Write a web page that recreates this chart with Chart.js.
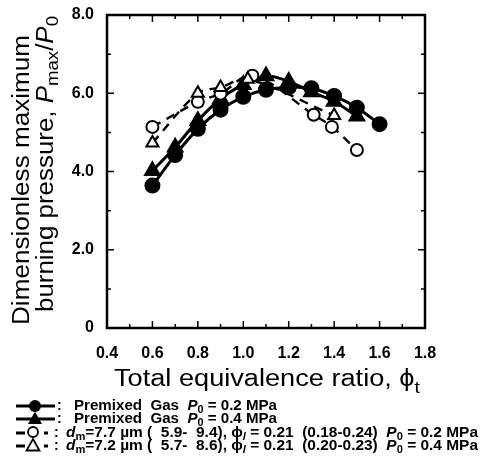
<!DOCTYPE html>
<html>
<head>
<meta charset="utf-8">
<script src="https://cdn.jsdelivr.net/npm/chart.js@4.4.1/dist/chart.umd.min.js"></script>
<style>
  html, body { margin: 0; padding: 0; background: #fff; }
  #wrap { width: 480px; height: 465px; position: relative; }
</style>
</head>
<body>
<div id="wrap"><canvas id="chart" width="480" height="465"></canvas></div>
<script>
// dati
const gas02X = [0.6, 0.7, 0.8, 0.9, 1.0, 1.1, 1.2, 1.3, 1.4, 1.5, 1.6];
const gas02Y = [3.64, 4.42, 5.09, 5.58, 5.91, 6.09, 6.15, 6.13, 5.93, 5.63, 5.21];
const gas04X = [0.6, 0.7, 0.8, 0.9, 1.0, 1.1, 1.2, 1.3, 1.4, 1.5];
const gas04Y = [4.02, 4.62, 5.3, 5.86, 6.22, 6.44, 6.3, 6.03, 5.79, 5.41];
const spray02X = [0.6, 0.8, 0.9, 1.04, 1.31, 1.39, 1.5];
const spray02Y = [5.14, 5.78, 5.99, 6.45, 5.45, 5.14, 4.55];
const spray04X = [0.6, 0.8, 0.9, 1.02, 1.4];
const spray04Y = [4.73, 6.0, 6.15, 6.36, 5.43];
const xTicks = [0.4, 0.6, 0.8, 1.0, 1.2, 1.4, 1.6, 1.8];
const yTicks = [0, 2, 4, 6, 8];

const FONT = '"Liberation Sans", Arial, Helvetica, sans-serif';
const pts = (xs, ys) => xs.map((x, i) => ({ x, y: ys[i] }));

// testo con corsivo e pedici
const fontOf = (s, size) => `${s.it ? 'italic ' : ''}${s.b ? 'bold ' : ''}${s.sub ? size * 0.72 : size}px ${FONT}`;

const segW = (ctx, segs, size) => segs.reduce((w, s) => {
  ctx.font = fontOf(s, size);
  return w + ctx.measureText(s.t).width;
}, 0);

const drawRich = (ctx, segs, x, y, size, width, center) => {
  const w = segW(ctx, segs, size);
  const sx = width ? width / w : 1;
  ctx.save();
  ctx.translate(center ? x - (w * sx) / 2 : x, y);
  ctx.scale(sx, 1);
  let cx = 0;
  segs.forEach(s => {
    ctx.font = fontOf(s, size);
    ctx.fillText(s.t, cx, s.sub ? size * 0.3 : 0);
    cx += ctx.measureText(s.t).width;
  });
  ctx.restore();
};

const frame = {
  id: 'frame',
  afterDraw(chart) {
    const { ctx, chartArea: a, scales } = chart;
    ctx.save();
    ctx.strokeStyle = '#000';
    ctx.lineWidth = 2.5;
    ctx.strokeRect(a.left, a.top, a.right - a.left, a.bottom - a.top);
    ctx.lineWidth = 1.5;
    ctx.beginPath();
    scales.x.ticks.forEach(t => {
      const px = scales.x.getPixelForValue(t.value);
      const len = Math.round(t.value * 10) % 2 === 0 ? 7 : 4;
      ctx.moveTo(px, a.bottom); ctx.lineTo(px, a.bottom - len);
      ctx.moveTo(px, a.top); ctx.lineTo(px, a.top + len);
    });
    scales.y.ticks.forEach(t => {
      const py = scales.y.getPixelForValue(t.value);
      const len = Math.round(t.value) % 2 === 0 ? 7 : 4;
      ctx.moveTo(a.left, py); ctx.lineTo(a.left + len, py);
      ctx.moveTo(a.right, py); ctx.lineTo(a.right - len, py);
    });
    ctx.stroke();

    // titoli assi
    ctx.fillStyle = '#000';
    ctx.textBaseline = 'middle';
    ctx.save();
    ctx.translate(23, 180);
    ctx.rotate(-Math.PI / 2);
    drawRich(ctx, [{ t: 'Dimensionless maximum' }], 0, 0, 23, 290, true);
    ctx.restore();
    ctx.save();
    ctx.translate(49, 164);
    ctx.rotate(-Math.PI / 2);
    drawRich(ctx, [
      { t: 'burning pressure, ' }, { t: 'P', it: true }, { t: 'max', sub: true },
      { t: '/' }, { t: 'P', it: true }, { t: '0', sub: true }
    ], 0, -2, 23, 296, true);
    ctx.restore();
    ctx.textBaseline = 'alphabetic';
    drawRich(ctx, [{ t: 'Total equivalence ratio, ' }, { t: 'ϕ' }, { t: 't', sub: true }], 267, 386, 23, 306, true);

    // legenda
    ctx.textBaseline = 'middle';
    const rows = [406, 419, 433, 446];
    ctx.lineWidth = 2.8;
    ctx.setLineDash([]);
    [0, 1].forEach(i => {
      const y = rows[i];
      ctx.beginPath(); ctx.moveTo(16, y); ctx.lineTo(55, y); ctx.stroke();
      ctx.beginPath();
      if (i === 0) ctx.arc(35, y, 6, 0, Math.PI * 2);
      else { ctx.moveTo(35, y - 7.5); ctx.lineTo(42, y + 5); ctx.lineTo(28, y + 5); ctx.closePath(); }
      ctx.fill();
    });
    [2, 3].forEach(i => {
      const y = rows[i];
      ctx.beginPath(); ctx.moveTo(16, y); ctx.lineTo(25, y); ctx.moveTo(44, y); ctx.lineTo(48, y); ctx.stroke();
      ctx.lineWidth = 1.8;
      ctx.beginPath();
      if (i === 2) ctx.arc(33, y - 1, 5, 0, Math.PI * 2);
      else { ctx.moveTo(33, y - 7); ctx.lineTo(39.5, y + 4.5); ctx.lineTo(26.5, y + 4.5); ctx.closePath(); }
      ctx.fillStyle = '#fff'; ctx.fill(); ctx.stroke();
      ctx.fillStyle = '#000';
      ctx.lineWidth = 2.8;
    });
    ctx.font = `bold 14px ${FONT}`;
    rows.forEach((y, i) => ctx.fillText(':', i < 2 ? 57 : 54, y));
    const B = 14;
    drawRich(ctx, [{ t: 'Premixed  Gas  ', b: true }, { t: 'P', it: true, b: true }, { t: '0', sub: true, b: true }, { t: ' = 0.2 MPa', b: true }], 74, rows[0], B, 203);
    drawRich(ctx, [{ t: 'Premixed  Gas  ', b: true }, { t: 'P', it: true, b: true }, { t: '0', sub: true, b: true }, { t: ' = 0.4 MPa', b: true }], 74, rows[1], B, 203);
    drawRich(ctx, [{ t: 'd', it: true, b: true }, { t: 'm', sub: true, b: true }, { t: '=7.7 µm (  5.9-  9.4), ', b: true },
      { t: 'ϕ', b: true }, { t: 'l', it: true, sub: true, b: true }, { t: ' = 0.21  (0.18-0.24)  ', b: true },
      { t: 'P', it: true, b: true }, { t: '0', sub: true, b: true }, { t: ' = 0.2 MPa', b: true }], 66, rows[2], B, 412);
    drawRich(ctx, [{ t: 'd', it: true, b: true }, { t: 'm', sub: true, b: true }, { t: '=7.2 µm (  5.7-  8.6), ', b: true },
      { t: 'ϕ', b: true }, { t: 'l', it: true, sub: true, b: true }, { t: ' = 0.21  (0.20-0.23)  ', b: true },
      { t: 'P', it: true, b: true }, { t: '0', sub: true, b: true }, { t: ' = 0.4 MPa', b: true }], 66, rows[3], B, 412);
    ctx.restore();
  }
};

const solid = { borderColor: '#000', borderWidth: 3, showLine: true, tension: 0.35, pointBackgroundColor: '#000', pointBorderColor: '#000' };
const dashed = { borderColor: '#000', borderWidth: 2.4, borderDash: [9, 7], showLine: true, tension: 0.35, pointBackgroundColor: '#fff', pointBorderColor: '#000', pointBorderWidth: 2 };

new Chart(document.getElementById('chart'), {
  type: 'scatter',
  data: {
    datasets: [
      { ...dashed, label: 'spray 0.4', data: pts(spray04X, spray04Y), pointStyle: 'triangle', pointRadius: 7 },
      { ...dashed, label: 'spray 0.2', data: pts(spray02X, spray02Y), pointStyle: 'circle', pointRadius: 6 },
      { ...solid, label: 'gas 0.4', data: pts(gas04X, gas04Y), pointStyle: 'triangle', pointRadius: 7.5 },
      { ...solid, label: 'gas 0.2', data: pts(gas02X, gas02Y), pointStyle: 'circle', pointRadius: 6.5 },
    ],
  },
  options: {
    responsive: false,
    animation: false,
    layout: { padding: { left: 0, right: 55, top: 15, bottom: 0 } },
    plugins: { legend: { display: false }, tooltip: { enabled: false } },
    scales: {
      x: {
        type: 'linear', min: 0.4, max: 1.8,
        afterFit: s => { s.height = 137; },
        afterBuildTicks: s => { s.ticks = []; for (let i = 4; i <= 18; i++) s.ticks.push({ value: i / 10 }); },
        ticks: {
          padding: 8, color: '#000', font: { family: FONT, size: 16, weight: 'bold' },
          autoSkip: false, maxRotation: 0,
          callback: v => xTicks.some(t => Math.abs(t - v) < 1e-6) ? v.toFixed(1) : '',
        },
        grid: { display: false },
        border: { display: false },
      },
      y: {
        min: 0, max: 8,
        afterFit: s => { s.width = 107; },
        afterBuildTicks: s => { s.ticks = []; for (let i = 0; i <= 8; i++) s.ticks.push({ value: i }); },
        ticks: {
          padding: 5, color: '#000', font: { family: FONT, size: 16, weight: 'bold' },
          autoSkip: false,
          callback: v => yTicks.includes(v) ? (v === 0 ? '0' : v.toFixed(1)) : '',
        },
        grid: { display: false },
        border: { display: false },
      },
    },
  },
  plugins: [frame],
});
</script>
</body>
</html>
